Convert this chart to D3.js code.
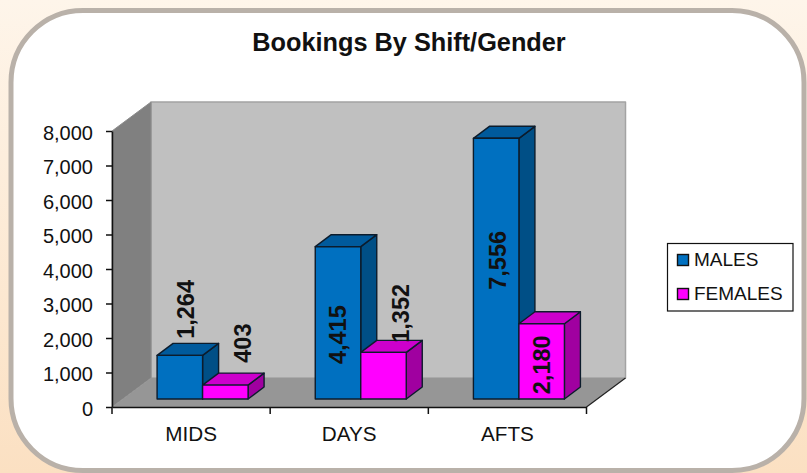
<!DOCTYPE html>
<html>
<head>
<meta charset="utf-8">
<script src="https://cdn.jsdelivr.net/npm/d3@7"></script>
<style>
  html, body { margin: 0; padding: 0; background: #fdf1e3; }
  svg { display: block; }
  text { font-family: "Liberation Sans", Arial, sans-serif; fill: #111; }
</style>
</head>
<body>
<svg id="chart"></svg>
<script>
const categories = ["MIDS", "DAYS", "AFTS"];
const males = [1264, 4415, 7556];
const females = [403, 1352, 2180];
const yTicks = [0, 1000, 2000, 3000, 4000, 5000, 6000, 7000, 8000];
const seriesNames = ["MALES", "FEMALES"];

const width = 807, height = 473;

// plot frame, front face of the 3d box
const plot = { left: 112, right: 586.5, top: 131, bottom: 407 };
const wallDx = 39, wallDy = -29;   // depth of the whole box
const barInDx = 11.5, barInDy = -8;  // bars sit a bit inside the floor
const barDx = 16, barDy = -12;     // depth of one bar
const barW = 45.5;

const colors = {
    MALES: { front: "#0070c0", top: "#005a9c", side: "#004f86" },
    FEMALES: { front: "#ff00ff", top: "#cc00cc", side: "#a000a0" }
};

const svg = d3.select("#chart").attr("width", width).attr("height", height);

const defs = svg.append("defs");
const grad = defs.append("linearGradient").attr("id", "bgGrad")
    .attr("x1", 0).attr("y1", 0).attr("x2", 0).attr("y2", 1);
grad.append("stop").attr("offset", "0%").attr("stop-color", "#fef5ea");
grad.append("stop").attr("offset", "100%").attr("stop-color", "#fbe0c2");

svg.append("rect").attr("width", width).attr("height", height).attr("fill", "url(#bgGrad)");
svg.append("rect")
    .attr("x", 11).attr("y", 10.5)
    .attr("width", 793).attr("height", 460)
    .attr("rx", 72).attr("ry", 72)
    .attr("fill", "#fff")
    .attr("stroke", "#b9b1a9")
    .attr("stroke-width", 5);

svg.append("text")
    .attr("x", 409).attr("y", 51)
    .attr("text-anchor", "middle")
    .attr("font-size", 25.3)
    .attr("font-weight", "bold")
    .text("Bookings By Shift/Gender");

const x = d3.scaleBand().domain(categories).range([plot.left, plot.right]);
const y = d3.scaleLinear().domain([0, 8000]).range([plot.bottom, plot.top]);
const line = d3.line();

function poly(points, fill, stroke, sw) {
    return svg.append("path")
        .attr("d", line(points) + "Z")
        .attr("fill", fill)
        .attr("stroke", stroke || "none")
        .attr("stroke-width", sw || 0)
        .attr("stroke-linejoin", "round");
}

// walls and floor
const L = plot.left, R = plot.right, T = plot.top, B = plot.bottom;
poly([[L + wallDx, T + wallDy], [R + wallDx, T + wallDy], [R + wallDx, B + wallDy], [L + wallDx, B + wallDy]], "#c0c0c0", "#a3a3a3", 1.5);
poly([[L, T], [L + wallDx, T + wallDy], [L + wallDx, B + wallDy], [L, B]], "#808080", "#8c8c8c", 1);
poly([[L, B], [L + wallDx, B + wallDy], [R + wallDx, B + wallDy], [R, B]], "#969696");
svg.append("path")
    .attr("d", line([[R, B], [R + wallDx, B + wallDy]]))
    .attr("stroke", "#222").attr("stroke-width", 1.2);

// axes
const gy = svg.append("g")
    .attr("transform", `translate(${L},0)`)
    .call(d3.axisLeft(y).tickValues(yTicks).tickFormat(d3.format(",")).tickSize(6).tickPadding(13).tickSizeOuter(0));
gy.selectAll("text").attr("font-size", 20).attr("dy", "0.42em");
gy.selectAll("line,path").attr("stroke", "#111").attr("stroke-width", 1.5);

const gx = svg.append("g")
    .attr("transform", `translate(0,${B})`)
    .call(d3.axisBottom(x).tickSize(0).tickPadding(19));
gx.selectAll("text").attr("font-size", 20.7);
gx.select("path").attr("stroke", "#111").attr("stroke-width", 1.5);
gx.selectAll(".edge")
    .data(d3.range(categories.length + 1))
    .join("line")
    .attr("class", "edge")
    .attr("x1", i => L + i * x.step()).attr("x2", i => L + i * x.step())
    .attr("y1", 0).attr("y2", 7)
    .attr("stroke", "#111").attr("stroke-width", 1.5);

// bars
const barBase = B + barInDy;
function barLeft(cat, idx) {
    return x(cat) + x.bandwidth() / 2 + barInDx - barW + idx * barW;
}
function barTop(value) {
    return barBase - (y(0) - y(value));
}
function bar(cat, value, name, idx) {
    const c = colors[name];
    const x0 = barLeft(cat, idx);
    const x1 = x0 + barW;
    const top = barTop(value);
    const stroke = "#0c1c2c";
    poly([[x1, top], [x1 + barDx, top + barDy], [x1 + barDx, barBase + barDy], [x1, barBase]], c.side, stroke, 1.4);
    poly([[x0, top], [x0 + barDx, top + barDy], [x1 + barDx, top + barDy], [x1, top]], c.top, stroke, 1.4);
    poly([[x0, top], [x1, top], [x1, barBase], [x0, barBase]], c.front, stroke, 1.4);
}
categories.forEach((cat, i) => {
    bar(cat, males[i], "MALES", 0);
    bar(cat, females[i], "FEMALES", 1);
});

// value labels, each placed by hand relative to its bar like the original
const maleLabelOffset = [[6, -46], [0, 88], [1, 122]];
const femaleLabelOffset = [[17, -42], [17, -39], [0, 41]];
function valueLabel(cat, value, idx, off) {
    const cx = barLeft(cat, idx) + barW / 2 + off[0];
    const cy = barTop(value) + off[1];
    svg.append("text")
        .attr("transform", `translate(${cx},${cy}) rotate(-90)`)
        .attr("text-anchor", "middle")
        .attr("dy", "0.36em")
        .attr("font-size", 23.5)
        .attr("font-weight", "bold")
        .text(d3.format(",")(value));
}
categories.forEach((cat, i) => {
    valueLabel(cat, males[i], 0, maleLabelOffset[i]);
    valueLabel(cat, females[i], 1, femaleLabelOffset[i]);
});

// legend
svg.append("rect")
    .attr("x", 667.5).attr("y", 243.5).attr("width", 125.5).attr("height", 67.5)
    .attr("fill", "#fff").attr("stroke", "#111").attr("stroke-width", 1.2);
const legend = svg.selectAll(".legendItem")
    .data(seriesNames)
    .join("g")
    .attr("class", "legendItem")
    .attr("transform", (d, i) => `translate(677.5,${254.5 + i * 34})`);
legend.append("rect")
    .attr("width", 11).attr("height", 11)
    .attr("fill", d => colors[d].front)
    .attr("stroke", "#111").attr("stroke-width", 1.4);
legend.append("text")
    .attr("x", 16.5).attr("y", 11.5)
    .attr("font-size", 19)
    .text(d => d);
</script>
</body>
</html>
